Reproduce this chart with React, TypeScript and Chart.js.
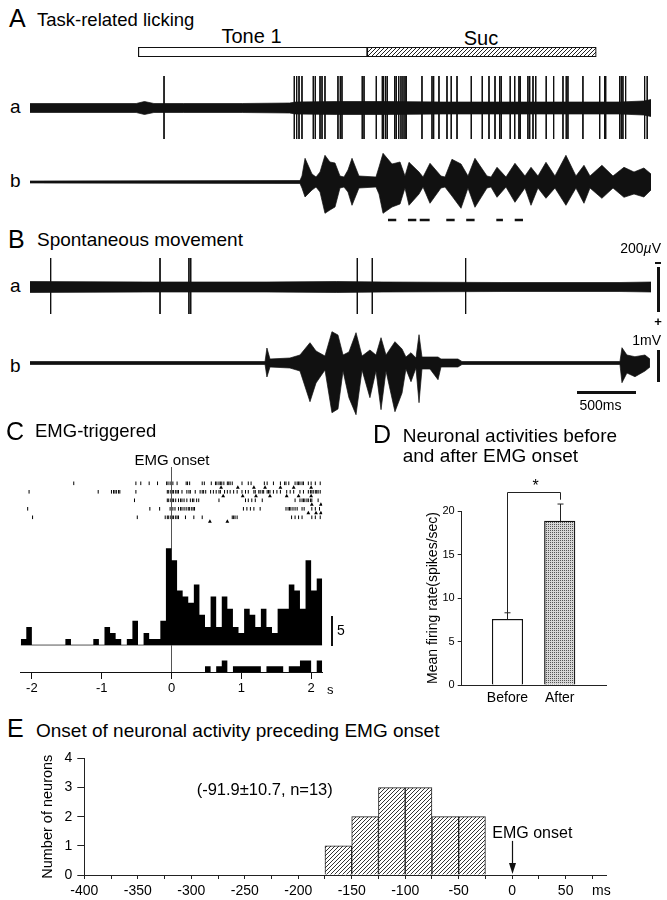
import React, { useEffect, useRef } from "react";
import { Chart, registerables } from "chart.js";

Chart.register(...registerables);
const FONT = "'Liberation Sans', Arial, Helvetica, sans-serif";
Chart.defaults.font.family = FONT;
Chart.defaults.color = "#000";

const INK = "#111";

// ---------- Panel A / B : time axis of traces (seconds) ----------
const TRACE_END = 5.263;

// stimulus bars (s)
const stimLabels = ["Tone 1", "Suc"];
const toneStart = 0.918;
const toneEnd = 2.858;
const sucEnd = 4.799;

// A a : unit recording (noise band half-width and spikes)
const aaBandT = [0, 0.5, 0.9, 0.97, 1.05, 1.3, 1.8, 2.2, 2.25, 2.6, 3.0, 3.5, 4.0, 4.5, 5.0, 5.2, 5.263];
const aaBandAmp = [4.5, 4.5, 4.5, 6.5, 4.5, 4.5, 4.5, 5, 6, 6.5, 6.5, 6, 6, 6, 6, 7, 8.5];
const aaSpikeT = [1.136, 2.24, 2.26, 2.28, 2.305, 2.401, 2.418, 2.458, 2.475, 2.5, 2.61, 2.63, 2.644, 2.816, 2.831, 2.935, 2.986, 2.997, 3.014, 3.028, 3.091, 3.104, 3.125, 3.144, 3.161, 3.178, 3.189, 3.322, 3.407, 3.421, 3.466, 3.534, 3.57, 3.619, 3.74, 3.833, 3.89, 3.941, 3.981, 3.994, 4.07, 4.108, 4.144, 4.155, 4.22, 4.235, 4.263, 4.286, 4.375, 4.438, 4.517, 4.545, 4.559, 4.686, 4.828, 4.87, 4.879, 4.997, 5.011, 5.025, 5.048, 5.209, 5.231];
const aaSpikeUp = 32;
const aaSpikeDown = 31;

// A b : EMG envelope
const abT = [0, 2.288, 2.305, 2.331, 2.39, 2.424, 2.458, 2.5, 2.542, 2.585, 2.627, 2.661, 2.695, 2.729, 2.788, 2.932, 2.958, 2.992, 3.068, 3.136, 3.178, 3.212, 3.297, 3.331, 3.39, 3.483, 3.517, 3.576, 3.653, 3.712, 3.771, 3.873, 3.907, 3.958, 4.034, 4.11, 4.195, 4.246, 4.305, 4.373, 4.449, 4.542, 4.627, 4.695, 4.746, 4.847, 4.941, 5.034, 5.119, 5.203, 5.263];
const abUp = [1, 1.5, 6, 23.7, 8, 5, 10, 26.7, 20, 19, 6, 5, 12, 23.7, 6, 5, 15, 28.7, 18, 20, 6, 19.7, 10, 5, 18.7, 6, 5, 22.7, 18, 6, 23.7, 6, 5, 14.7, 5, 18.7, 6, 14.7, 6, 19.7, 6, 26.7, 6, 16.7, 6, 16.7, 6, 14.7, 10, 14, 8];
const abDown = [1, 1.5, 6, 15, 8, 5, 10, 31.3, 28, 25, 6, 5, 10, 23.3, 6, 5, 12, 31.3, 25, 22, 6, 23.3, 12, 5, 21.3, 6, 5, 14, 26.3, 6, 25.3, 6, 5, 15.3, 5, 20.3, 6, 23.3, 6, 16.3, 6, 23.3, 6, 21.3, 6, 16.3, 6, 15.3, 12, 15, 8];
const abDashStart = [3.034, 3.203, 3.303, 3.528, 3.697, 3.952, 4.108];
const abDashEnd = [3.104, 3.274, 3.387, 3.599, 3.768, 4.008, 4.178];
const abDashLevel = -38;

// B a : unit recording
const baBandT = [0, 1.0, 2.0, 2.6, 3.0, 4.0, 5.0, 5.263];
const baBandAmp = [5.5, 5, 5, 5.5, 5, 4.5, 4.5, 5];
const baSpikeT = [0.175, 1.102, 1.347, 1.362, 2.774, 2.901, 3.692];
const baSpikeUp = 29;
const baSpikeDown = 27;

// B b : EMG envelope
const bbT = [0, 1.992, 2.008, 2.034, 2.203, 2.288, 2.373, 2.424, 2.5, 2.559, 2.61, 2.653, 2.703, 2.763, 2.814, 2.881, 2.932, 2.975, 3.017, 3.093, 3.153, 3.186, 3.229, 3.271, 3.297, 3.322, 3.39, 3.458, 3.483, 3.627, 3.661, 5.0, 5.017, 5.059, 5.127, 5.212, 5.254];
const bbUp = [1.5, 1.5, 15, 4, 5, 8, 20.3, 12, 7, 31.3, 28, 8, 11, 30.3, 7, 13, 8, 25.3, 8, 21.3, 14, 6, 10.3, 5, 28.3, 6, 6, 6, 4, 4, 1.5, 1.5, 15.3, 8, 6.3, 8, 4];
const bbDown = [1.5, 1.5, 14, 4, 5, 8, 38.7, 20, 7, 49.7, 46, 8, 34.7, 51.7, 7, 34.7, 8, 46.7, 8, 48.7, 30, 6, 18.7, 5, 39.7, 6, 6, 16.7, 4, 4, 1.5, 1.5, 19.7, 10, 13.7, 8, 4];

// ---------- Panel C : EMG-triggered raster + histogram ----------
const cBinStart = -2.16;
const cBinWidth = 0.08;
const cCounts = [1, 3, 0, 0, 0, 0, 0, 0, 1, 0, 0, 0, 0, 1, 0, 3, 2, 1, 0, 1, 4, 0, 2, 1, 1, 4, 16, 14, 9, 8, 7, 10, 5, 3, 8, 3, 8, 6, 3, 2, 6, 5, 3, 6, 3, 2, 6, 6, 10, 9, 6, 14, 9, 11];
const cEmg = [0, 0, 0, 0, 0, 0, 0, 0, 0, 0, 0, 0, 0, 0, 0, 0, 0, 0, 0, 0, 0, 0, 0, 0, 0, 0, 0, 0, 0, 0, 0, 0, 0, 1, 0, 1, 2, 0, 1, 1, 1, 1, 1, 0, 1, 1, 1, 0, 1, 1, 2, 2, 0, 2];
const cOnset = 0;
const cRow1 = [-1.4, -0.51, -0.44, -0.32, -0.2, -0.07, -0.05, -0.02, 0, 0.02, 0.08, 0.21, 0.23, 0.26, 0.44, 0.47, 0.57, 0.63, 0.65, 0.68, 0.7, 0.72, 0.75, 0.8, 0.82, 0.84, 0.87, 1.01, 1.1, 1.14, 1.33, 1.37, 1.46, 1.56, 1.62, 1.64, 1.68, 1.77, 1.8, 1.82, 1.84, 1.87, 1.89, 1.96, 2.0, 2.06, 2.13];
const cRow2 = [-2.04, -1.05, -0.86, -0.83, -0.81, -0.79, -0.76, -0.74, -0.51, -0.06, -0.04, -0.01, 0.01, 0.03, 0.06, 0.08, 0.1, 0.15, 0.22, 0.25, 0.27, 0.34, 0.41, 0.44, 0.46, 0.49, 0.56, 0.6, 0.64, 0.68, 0.7, 0.76, 0.8, 0.84, 0.89, 0.94, 1.01, 1.06, 1.1, 1.18, 1.2, 1.25, 1.27, 1.3, 1.32, 1.37, 1.39, 1.41, 1.46, 1.51, 1.56, 1.65, 1.7, 1.75, 1.84, 1.89, 1.96, 1.99, 2.01, 2.03, 2.06, 2.08, 2.1, 2.13];
const cRow3 = [-0.53, -0.06, -0.04, -0.01, 0.01, 0.03, 0.06, 0.1, 0.13, 0.15, 0.18, 0.22, 0.27, 0.3, 0.32, 0.36, 0.39, 0.68, 1.06, 1.1, 1.15, 1.2, 1.3, 1.77, 1.84, 1.87, 1.89, 1.91, 1.94, 1.96, 1.99, 2.01, 2.1];
const cRow4 = [-2.06, -0.31, -0.17, -0.02, 0, 0.02, 0.05, 0.1, 0.13, 0.15, 0.18, 0.21, 0.24, 0.26, 0.29, 0.31, 0.33, 1.03, 1.08, 1.13, 1.18, 1.27, 1.64, 1.67, 1.69, 1.71, 1.74, 1.77, 1.8, 1.87, 1.9, 2.01, 2.06, 2.12];
const cRow5 = [-1.99, -0.49, -0.09, -0.06, -0.04, -0.01, 0.01, 0.03, 0.06, 0.08, 0.1, 0.2, 0.32, 0.44, 0.87, 0.89, 0.91, 0.94, 1.72, 1.77, 1.82, 1.87, 2.01, 2.06, 2.13];
const cTri1 = [0.71, 0.95, 1.18, 1.34, 1.56, 1.75, 2.0];
const cTri2 = [0.74, 1.02, 1.21, 1.41, 1.65, 1.82, 2.0];
const cTri3 = [2.01, 2.14];
const cTri4 = [1.96, 2.07, 2.14];
const cTri5 = [0.55, 0.8];

// ---------- Panel D ----------
const dCats = ["Before", "After"];
const dMeans = [7.55, 18.85];
const dErrs = [0.75, 1.95];
const dBracketTop = 22.15;
const dBracketRightEnd = 21.3;
const dYTitle = "Mean firing rate(spikes/sec)";

// ---------- Panel E ----------
const eBinStart = [-175, -150, -125, -100, -75, -50];
const eCounts = [1, 2, 3, 3, 2, 2];
const eBinWidth = 25;
const eOnsetX = 0;
const eArrowTop = 1.17;
const eYTitle = "Number of neurons";

// ---------- helpers ----------
const common: any = {
  responsive: false,
  animation: false,
  events: [],
  plugins: { legend: { display: false }, tooltip: { enabled: false } },
};

function hatch(ctx: CanvasRenderingContext2D, size: number, lw: number, color: string) {
  const c = document.createElement("canvas");
  c.width = size;
  c.height = size;
  const g = c.getContext("2d")!;
  g.fillStyle = "#fff";
  g.fillRect(0, 0, size, size);
  g.strokeStyle = color;
  g.lineWidth = lw;
  g.beginPath();
  g.moveTo(-1, size + 1);
  g.lineTo(size + 1, -1);
  g.moveTo(-1, 1);
  g.lineTo(1, -1);
  g.moveTo(size - 1, size + 1);
  g.lineTo(size + 1, size - 1);
  g.stroke();
  return ctx.createPattern(c, "repeat")!;
}

function stipple(ctx: CanvasRenderingContext2D) {
  const c = document.createElement("canvas");
  c.width = 2;
  c.height = 2;
  const g = c.getContext("2d")!;
  g.fillStyle = "#d6d6d6";
  g.fillRect(0, 0, 2, 2);
  g.fillStyle = "#555";
  g.fillRect(0, 0, 1, 1);
  return ctx.createPattern(c, "repeat")!;
}

function bandSets(T: number[], up: number[], down: number[]) {
  return [
    { data: T.map((t, i) => ({ x: t, y: up[i] })), fill: "+1", backgroundColor: INK, borderColor: INK, borderWidth: 0.7, pointRadius: 0 },
    { data: T.map((t, i) => ({ x: t, y: -down[i] })), fill: false, borderColor: INK, borderWidth: 0.7, pointRadius: 0 },
  ];
}

function spikeSet(T: number[], up: number, down: number) {
  const d: any[] = [];
  T.forEach((t) => d.push({ x: t, y: up }, { x: t, y: -down }, { x: t, y: null }));
  return { data: d, borderColor: INK, borderWidth: 1, pointRadius: 0, spanGaps: false, fill: false };
}

function traceCfg(datasets: any[], yMax: number) {
  return {
    type: "line",
    data: { datasets },
    options: {
      ...common,
      layout: { padding: { left: 30, right: 16, top: 0, bottom: 0 } },
      elements: { line: { tension: 0 } },
      scales: {
        x: { type: "linear", min: 0, max: TRACE_END, display: false, offset: false },
        y: { type: "linear", min: -yMax, max: yMax, display: false },
      },
    },
  };
}

function stepPts(counts: number[]) {
  const pts = counts.map((c, i) => ({ x: cBinStart + i * cBinWidth, y: c }));
  pts.push({ x: cBinStart + counts.length * cBinWidth, y: counts[counts.length - 1] });
  return pts;
}

// ---------- chart configs ----------
const stimCfg = (ctx: CanvasRenderingContext2D) => ({
  type: "bar",
  data: {
    labels: ["stim"],
    datasets: [
      { label: stimLabels[0], data: [[toneStart, toneEnd]], backgroundColor: "#fff", borderColor: INK, borderWidth: 1.2, borderSkipped: false, grouped: false, barThickness: 9.5 },
      { label: stimLabels[1], data: [[toneEnd, sucEnd]], backgroundColor: hatch(ctx, 4, 1, "#222"), borderColor: INK, borderWidth: 1.2, borderSkipped: false, grouped: false, barThickness: 9.5 },
    ],
  },
  options: {
    ...common,
    indexAxis: "y",
    layout: { padding: { left: 30, right: 16, top: 0, bottom: 0 } },
    scales: { x: { type: "linear", min: 0, max: TRACE_END, display: false, offset: false }, y: { display: false } },
  },
});

const aaCfg = () =>
  traceCfg([...bandSets(aaBandT, aaBandAmp, aaBandAmp), spikeSet(aaSpikeT, aaSpikeUp, aaSpikeDown)], 42);

const abCfg = () => {
  const dash: any[] = [];
  abDashStart.forEach((s, i) => dash.push({ x: s, y: abDashLevel }, { x: abDashEnd[i], y: abDashLevel }, { x: abDashEnd[i], y: null }));
  return traceCfg([...bandSets(abT, abUp, abDown), { data: dash, borderColor: INK, borderWidth: 2.5, pointRadius: 0, spanGaps: false }], 42);
};

const baCfg = () =>
  traceCfg([...bandSets(baBandT, baBandAmp, baBandAmp), spikeSet(baSpikeT, baSpikeUp, baSpikeDown)], 42);

const bbCfg = () => traceCfg(bandSets(bbT, bbUp, bbDown), 58);

const C_YH_MIN = -4.45;
const C_YH_MAX = 29.4;

const cCfg = () => {
  const rows = [cRow1, cRow2, cRow3, cRow4, cRow5];
  const tris = [cTri1, cTri2, cTri3, cTri4, cTri5];
  const end = cBinStart + cCounts.length * cBinWidth;
  return {
    type: "line",
    data: {
      datasets: [
        { data: stepPts(cCounts), yAxisID: "yh", stepped: true, fill: "origin", backgroundColor: "#000", borderColor: "rgba(0,0,0,0)", borderWidth: 0, pointRadius: 0 },
        { data: stepPts(cEmg), yAxisID: "ye", stepped: true, fill: "origin", backgroundColor: "#000", borderColor: "rgba(0,0,0,0)", borderWidth: 0, pointRadius: 0 },
        { data: [{ x: cBinStart, y: 0 }, { x: end, y: 0 }], yAxisID: "yh", borderColor: "#555", borderWidth: 1, pointRadius: 0 },
        { data: [{ x: cOnset, y: C_YH_MAX }, { x: cOnset, y: C_YH_MIN }], yAxisID: "yh", borderColor: "#555", borderWidth: 1, pointRadius: 0 },
        ...rows.map((r, i) => ({
          data: r.map((t) => ({ x: t, y: i + 1 })),
          yAxisID: "yr",
          showLine: false,
          pointStyle: "line",
          pointRadius: 1.8,
          pointRotation: 90,
          pointBorderColor: "#000",
          pointBorderWidth: 1,
        })),
        ...tris.map((r, i) => ({
          data: r.map((t) => ({ x: t, y: i + 1.5 })),
          yAxisID: "yr",
          showLine: false,
          pointStyle: "triangle",
          pointRadius: 2.2,
          pointBackgroundColor: "#000",
          pointBorderColor: "#000",
          pointBorderWidth: 0,
        })),
      ],
    },
    options: {
      ...common,
      layout: { padding: { left: 20.7, right: 17.7, top: 5, bottom: 0 } },
      scales: {
        x: {
          type: "linear",
          min: cBinStart,
          max: end,
          offset: false,
          afterFit: (s: any) => { s.height = 30; },
          ticks: { stepSize: 1, includeBounds: false, font: { size: 13 }, color: "#000", padding: 2, maxRotation: 0 },
          grid: { drawOnChartArea: false, tickLength: 7, color: "#111" },
          border: { display: true, color: "#111", width: 1 },
        },
        yh: { type: "linear", min: C_YH_MIN, max: C_YH_MAX, display: false },
        yr: { type: "linear", min: -0.918, max: 23.2, reverse: true, display: false },
        ye: { type: "linear", min: 0, max: 35.96, display: false },
      },
    },
  };
};

const dPlugin = {
  id: "dAnnot",
  afterDatasetsDraw(chart: any) {
    const { ctx, scales } = chart;
    const x = scales.x;
    const y = scales.y;
    ctx.save();
    ctx.strokeStyle = "#222";
    ctx.lineWidth = 1;
    dMeans.forEach((m, i) => {
      const px = Math.round(x.getPixelForValue(i)) + 0.5;
      const y0 = y.getPixelForValue(m);
      const y1 = y.getPixelForValue(m + dErrs[i]);
      ctx.beginPath();
      ctx.moveTo(px, y0);
      ctx.lineTo(px, y1);
      ctx.moveTo(px - 3, y1);
      ctx.lineTo(px + 3, y1);
      ctx.stroke();
    });
    const xl = Math.round(x.getPixelForValue(0)) + 0.5;
    const xr = Math.round(x.getPixelForValue(1)) + 0.5;
    const yt = Math.round(y.getPixelForValue(dBracketTop)) + 0.5;
    ctx.beginPath();
    ctx.moveTo(xl, y.getPixelForValue(dMeans[0] + dErrs[0]));
    ctx.lineTo(xl, yt);
    ctx.lineTo(xr, yt);
    ctx.lineTo(xr, y.getPixelForValue(dBracketRightEnd));
    ctx.stroke();
    ctx.restore();
  },
};

const dCfg = (ctx: CanvasRenderingContext2D) => ({
  type: "bar",
  data: {
    datasets: [
      {
        data: dMeans.map((m, i) => ({ x: i, y: m })),
        backgroundColor: ["#fff", stipple(ctx)],
        borderColor: "#111",
        borderWidth: 1.2,
        barThickness: 30.5,
      },
    ],
  },
  options: {
    ...common,
    layout: { padding: { left: 40.6, right: 60.3, top: 41, bottom: 0 } },
    scales: {
      x: {
        type: "linear",
        min: -0.877,
        max: 1.9,
        offset: false,
        afterFit: (s: any) => { s.height = 25; },
        afterBuildTicks: (s: any) => { s.ticks = dCats.map((_, i) => ({ value: i })); },
        ticks: { callback: (v: any) => dCats[v] ?? "", font: { size: 14 }, color: "#000", padding: 5, maxRotation: 0, autoSkip: false },
        grid: { display: false, drawTicks: false },
        border: { display: true, color: "#222", width: 1 },
      },
      y: {
        min: 0,
        max: 20,
        afterFit: (s: any) => { s.width = 41.1; },
        ticks: { stepSize: 5, font: { size: 11 }, color: "#000", padding: 3 },
        grid: { drawOnChartArea: false, tickLength: 4, color: "#222" },
        border: { display: true, color: "#222", width: 1 },
        title: { display: true, text: dYTitle, font: { size: 14 }, color: "#000", padding: { top: 4, bottom: 0 } },
      },
    },
  },
  plugins: [dPlugin],
});

const eArrow = {
  id: "eArrow",
  afterDatasetsDraw(chart: any) {
    const { ctx, scales } = chart;
    const x = Math.round(scales.x.getPixelForValue(eOnsetX)) + 0.5;
    const yTop = scales.y.getPixelForValue(eArrowTop);
    const yBot = scales.y.getPixelForValue(0) - 1;
    ctx.save();
    ctx.strokeStyle = "#111";
    ctx.fillStyle = "#111";
    ctx.lineWidth = 1.2;
    ctx.beginPath();
    ctx.moveTo(x, yTop);
    ctx.lineTo(x, yBot - 6);
    ctx.stroke();
    ctx.beginPath();
    ctx.moveTo(x - 3.5, yBot - 11);
    ctx.lineTo(x + 3.5, yBot - 11);
    ctx.lineTo(x, yBot);
    ctx.closePath();
    ctx.fill();
    ctx.restore();
  },
};

const eCfg = (ctx: CanvasRenderingContext2D) => ({
  type: "bar",
  data: {
    datasets: [
      {
        data: eBinStart.map((s, i) => ({ x: s + eBinWidth / 2, y: eCounts[i] })),
        backgroundColor: hatch(ctx, 4, 1, "#333"),
        borderColor: "#222",
        borderWidth: 1,
        barPercentage: 1,
        categoryPercentage: 1,
      },
    ],
  },
  options: {
    ...common,
    layout: { padding: { left: 35.3, right: 60.7, top: 10, bottom: 0 } },
    scales: {
      x: {
        type: "linear",
        min: -400,
        max: 88,
        offset: false,
        afterFit: (s: any) => { s.height = 25; },
        ticks: {
          stepSize: 25,
          includeBounds: false,
          autoSkip: false,
          maxRotation: 0,
          padding: 4,
          font: { size: 14 },
          color: "#000",
          callback: (v: any) => (v % 50 === 0 && v <= 50 ? String(v) : ""),
        },
        grid: { drawOnChartArea: false, tickLength: 4, color: "#222", offset: false },
        border: { display: true, color: "#222", width: 1 },
      },
      y: {
        min: 0,
        max: 4,
        afterFit: (s: any) => { s.width = 49; },
        ticks: { stepSize: 1, padding: 5, font: { size: 14 }, color: "#000" },
        grid: { drawOnChartArea: false, tickLength: 7, color: "#222" },
        border: { display: true, color: "#222", width: 1 },
        title: { display: true, text: eYTitle, font: { size: 14.5 }, color: "#000", padding: { top: 4, bottom: 0 } },
      },
    },
  },
  plugins: [eArrow],
});

// ---------- components ----------
function ChartBox({ left, top, width, height, make }: any) {
  const ref = useRef<HTMLCanvasElement | null>(null);
  useEffect(() => {
    const canvas = ref.current;
    if (!canvas) return;
    const ctx = canvas.getContext("2d")!;
    const chart = new Chart(ctx, make(ctx) as any);
    return () => chart.destroy();
  }, [make]);
  return (
    <canvas
      ref={ref}
      width={width}
      height={height}
      style={{ position: "absolute", left, top, width, height }}
    />
  );
}

function Txt({ x, y, size, align = "left", children, weight }: any) {
  const tx = align === "center" ? "translateX(-50%)" : align === "right" ? "translateX(-100%)" : undefined;
  return (
    <div
      style={{
        position: "absolute",
        left: x,
        top: y - 0.8465 * size,
        fontSize: size,
        lineHeight: `${size}px`,
        whiteSpace: "nowrap",
        transform: tx,
        fontWeight: weight,
      }}
    >
      {children}
    </div>
  );
}

function Bar({ x, y, w, h }: any) {
  return <div style={{ position: "absolute", left: x, top: y, width: w, height: h, background: "#111" }} />;
}

export default function App() {
  return (
    <div
      style={{
        position: "absolute",
        left: 0,
        top: 0,
        width: 667,
        height: 900,
        background: "#fff",
        overflow: "hidden",
        fontFamily: FONT,
        color: "#000",
      }}
    >
      {/* Panel A */}
      <Txt x={9} y={26.7} size={25}>A</Txt>
      <Txt x={37} y={26.7} size={18.5}>Task-related licking</Txt>
      <Txt x={251.5} y={43} size={20} align="center">{stimLabels[0]}</Txt>
      <Txt x={481} y={45} size={20} align="center">{stimLabels[1]}</Txt>
      <ChartBox left={0} top={40} width={667} height={24} make={stimCfg} />
      <Txt x={10} y={113} size={19}>a</Txt>
      <ChartBox left={0} top={66} width={667} height={84} make={aaCfg} />
      <Txt x={10} y={186.7} size={19}>b</Txt>
      <ChartBox left={0} top={140} width={667} height={84} make={abCfg} />

      {/* Panel B */}
      <Txt x={8} y={248.3} size={25}>B</Txt>
      <Txt x={37} y={245.7} size={19}>Spontaneous movement</Txt>
      <Txt x={10} y={291.7} size={19}>a</Txt>
      <ChartBox left={0} top={245} width={667} height={84} make={baCfg} />
      <Txt x={10} y={371.7} size={19}>b</Txt>
      <ChartBox left={0} top={305} width={667} height={116} make={bbCfg} />
      <Txt x={661} y={253} size={14} align="right">200<i>µ</i>V</Txt>
      <Bar x={655} y={262} w={6} h={1.5} />
      <Bar x={656.5} y={266.7} w={3} h={45.6} />
      <Txt x={658} y={326} size={13} align="center" weight="bold">+</Txt>
      <Txt x={661} y={345} size={14} align="right">1mV</Txt>
      <Bar x={656.5} y={350} w={3} h={31.7} />
      <Bar x={577} y={390.5} w={59.3} h={3} />
      <Txt x={600.5} y={410} size={14} align="center">500ms</Txt>

      {/* Panel C */}
      <Txt x={6} y={440} size={25}>C</Txt>
      <Txt x={35} y={438} size={18.5}>EMG-triggered</Txt>
      <Txt x={172} y={465} size={15} align="center">EMG onset</Txt>
      <ChartBox left={0} top={462} width={340} height={240} make={cCfg} />
      <Bar x={330.5} y={615.7} w={2.5} h={30.3} />
      <Txt x={337} y={635} size={14}>5</Txt>
      <Txt x={327} y={694} size={13}>s</Txt>

      {/* Panel D */}
      <Txt x={373} y={443.3} size={25}>D</Txt>
      <Txt x={402.7} y={441.7} size={19}>Neuronal activities before</Txt>
      <Txt x={402.7} y={461.7} size={19}>and after EMG onset</Txt>
      <ChartBox left={380} top={470} width={287} height={240} make={dCfg} />
      <Txt x={535.7} y={492} size={16} align="center">*</Txt>

      {/* Panel E */}
      <Txt x={7} y={737} size={25}>E</Txt>
      <Txt x={36} y={737} size={19}>Onset of neuronal activity preceding EMG onset</Txt>
      <ChartBox left={0} top={745} width={667} height={155} make={eCfg} />
      <Txt x={196.7} y={795} size={16.5}>(-91.9±10.7, n=13)</Txt>
      <Txt x={492.3} y={838.3} size={16}>EMG onset</Txt>
      <Txt x={592} y={895} size={14}>ms</Txt>
    </div>
  );
}
